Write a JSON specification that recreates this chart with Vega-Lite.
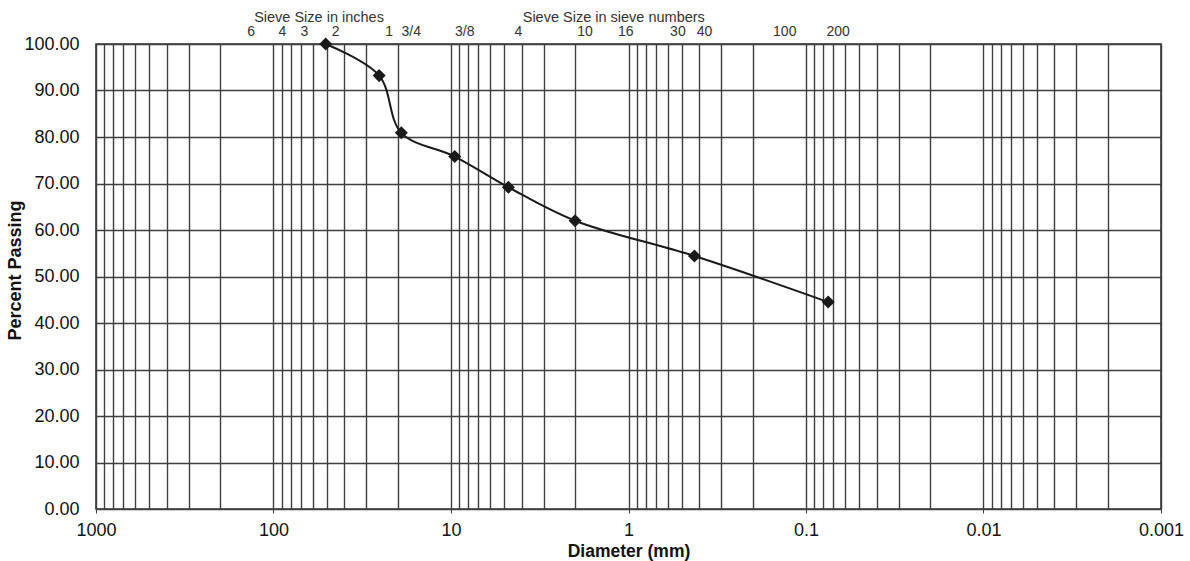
{
  "$schema": "https://vega.github.io/schema/vega-lite/v6.json",
  "width": 1065,
  "height": 465,
  "autosize": {"type": "none"},
  "padding": {"left": 96, "top": 44, "right": 29, "bottom": 52},
  "background": "white",
  "config": {
    "font": "Liberation Sans",
    "view": {"stroke": "#333333", "strokeWidth": 1.6},
    "axisX": {
      "grid": true, "gridColor": "#3f3f3f", "gridWidth": 1.4, "gridOpacity": 1,
      "domain": false, "tickSize": 4, "tickColor": "#3f3f3f",
      "labelFontSize": 18, "labelPadding": 8, "labelColor": "#111", "labelOverlap": false, "labelFlush": false, "labelBound": false,
      "titleFontSize": 17.5, "titleFontWeight": "bold", "titleColor": "#111", "titleY": 47, "titleBaseline": "alphabetic"
    },
    "axisY": {
      "grid": true, "gridColor": "#3f3f3f", "gridWidth": 1.4, "gridOpacity": 1,
      "domain": false, "ticks": false,
      "labelFontSize": 18, "labelPadding": 17, "labelColor": "#111",
      "titleFontSize": 18, "titleFontWeight": "bold", "titleColor": "#111", "titleX": -72, "titleY": 226
    }
  },
  "data": {"values": [
    {"mm": 50.8, "pct": 100},
    {"mm": 25.4, "pct": 93.2},
    {"mm": 19.05, "pct": 80.9},
    {"mm": 9.525, "pct": 75.8},
    {"mm": 4.75, "pct": 69.2},
    {"mm": 2.0, "pct": 62.0},
    {"mm": 0.425, "pct": 54.4},
    {"mm": 0.075, "pct": 44.5}
  ]},
  "layer": [
    {
      "mark": {"type": "line", "interpolate": "catmull-rom", "color": "#1a1a1a", "strokeWidth": 2},
      "encoding": {
        "x": {
          "field": "mm", "type": "quantitative", "title": "Diameter (mm)",
          "scale": {"type": "log", "domain": [0.001, 1000], "reverse": true, "nice": false},
          "axis": {
            "values": [1000, 900, 800, 700, 600, 500, 400, 300, 200, 100, 90, 80, 70, 60, 50, 40, 30, 20, 10, 9, 8, 7, 6, 5, 4, 3, 2, 1, 0.9, 0.8, 0.7, 0.6, 0.5, 0.4, 0.3, 0.2, 0.1, 0.09, 0.08, 0.07, 0.06, 0.05, 0.04, 0.03, 0.02, 0.01, 0.009, 0.008, 0.007, 0.006, 0.005, 0.004, 0.003, 0.002, 0.001],
            "labelExpr": "indexof([1000,100,10,1,0.1,0.01,0.001], datum.value) >= 0 ? format(datum.value, '~g') : ''",
            "tickOpacity": {"condition": {"test": "indexof([1000,100,10,1,0.1,0.01,0.001], datum.value) < 0", "value": 0}, "value": 1}
          }
        },
        "y": {
          "field": "pct", "type": "quantitative", "title": "Percent Passing",
          "scale": {"domain": [0, 100], "nice": false, "zero": false},
          "axis": {"values": [0, 10, 20, 30, 40, 50, 60, 70, 80, 90, 100], "format": ".2f"}
        }
      }
    },
    {
      "mark": {"type": "point", "shape": "diamond", "filled": true, "size": 170, "color": "#1a1a1a", "opacity": 1},
      "encoding": {
        "x": {"field": "mm", "type": "quantitative", "title": "Diameter (mm)"},
        "y": {"field": "pct", "type": "quantitative", "title": "Percent Passing"}
      }
    },
    {
      "data": {"values": [
        {"mm": 152.4, "label": "6"},
        {"mm": 101.6, "label": "4"},
        {"mm": 76.2, "label": "3"},
        {"mm": 50.8, "label": "2"},
        {"mm": 25.4, "label": "1"},
        {"mm": 19.05, "label": "3/4"},
        {"mm": 9.525, "label": "3/8"},
        {"mm": 4.75, "label": "4"},
        {"mm": 2.0, "label": "10"},
        {"mm": 1.18, "label": "16"},
        {"mm": 0.6, "label": "30"},
        {"mm": 0.425, "label": "40"},
        {"mm": 0.15, "label": "100"},
        {"mm": 0.075, "label": "200"}
      ]},
      "mark": {"type": "text", "dx": 10, "fontSize": 14, "baseline": "alphabetic", "color": "#333"},
      "encoding": {
        "x": {"field": "mm", "type": "quantitative", "title": "Diameter (mm)"},
        "y": {"datum": 101.7, "type": "quantitative", "title": "Percent Passing"},
        "text": {"field": "label"}
      }
    },
    {
      "data": {"values": [
        {"mm": 55.4, "label": "Sieve Size in inches"},
        {"mm": 1.21, "label": "Sieve Size in sieve numbers"}
      ]},
      "mark": {"type": "text", "fontSize": 14.5, "baseline": "alphabetic", "color": "#333"},
      "encoding": {
        "x": {"field": "mm", "type": "quantitative", "title": "Diameter (mm)"},
        "y": {"datum": 104.7, "type": "quantitative", "title": "Percent Passing"},
        "text": {"field": "label"}
      }
    }
  ]
}
